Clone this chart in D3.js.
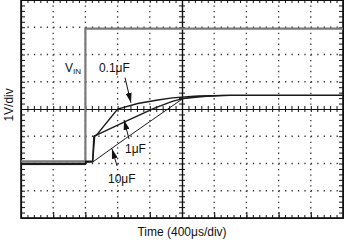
<!DOCTYPE html>
<html>
<head>
<meta charset="utf-8">
<script src="https://cdn.jsdelivr.net/npm/d3@7"></script>
<style>
  body { margin: 0; background: #fff; }
  svg { display: block; font-family: "Liberation Sans", Arial, sans-serif; }
</style>
</head>
<body>
<svg id="chart" width="344" height="241"></svg>
<script>
// time in microseconds, level in volts (0 V = bottom of the screen)
const vinT = [0, 800, 800, 4000];
const vinV = [2.08, 2.08, 6.95, 6.95];

const c01T = [0, 800, 805, 890, 905, 940, 1200, 1450, 1700, 1880, 2150, 2500, 4000];
const c01V = [2.0, 2.0, 2.08, 2.08, 3.0, 3.05, 4.0, 4.2, 4.33, 4.41, 4.47, 4.5, 4.5];

const c1T = [0, 800, 805, 890, 915, 944, 1300, 1665, 1880, 2010, 2300, 2600, 4000];
const c1V = [1.98, 1.98, 2.06, 2.06, 3.0, 3.05, 3.55, 4.04, 4.28, 4.38, 4.47, 4.5, 4.5];

const c10T = [0, 800, 805, 894, 1300, 1630, 2010, 2200, 2500, 4000];
const c10V = [1.96, 1.96, 2.04, 2.06, 2.92, 3.6, 4.38, 4.47, 4.5, 4.5];

const labels = ["0.1\u03bcF", "1\u03bcF", "10\u03bcF"];
const labelT = [1160, 1292, 1081];
const labelV = [5.37, 2.39, 1.29];
const arrowFromT = [1292, 1342, 1193];
const arrowFromV = [5.15, 2.9, 1.91];
const arrowToT = [1366, 1280, 1130];
const arrowToV = [4.23, 3.6, 2.54];

const xDivs = d3.range(0, 4001, 400);
const yDivs = d3.range(0, 8.01, 1);

const svg = d3.select("#chart");
const pLeft = 21, pRight = 343, pTop = 0, pBottom = 218;

const x = d3.scaleLinear().domain([0, 4000]).range([pLeft, pRight]);
const y = d3.scaleLinear().domain([0, 8]).range([pBottom, pTop]);

const minorX = d3.range(0, 4001, 80);
const minorY = d3.range(0, 8.001, 0.2).map(d => +d.toFixed(1));

// dotted graticule
svg.append("g")
    .selectAll("line")
    .data(xDivs.filter(d => d > 0 && d < 4000 && d !== 2000))
    .join("line")
    .attr("x1", d => x(d)).attr("x2", d => x(d))
    .attr("y1", pTop).attr("y2", pBottom)
    .attr("stroke", "#333")
    .attr("stroke-width", 1.3)
    .attr("stroke-dasharray", `1.3,${(pBottom - pTop) / 40 - 1.3}`);

svg.append("g")
    .selectAll("line")
    .data(yDivs.filter(d => d > 0 && d < 8 && d !== 4))
    .join("line")
    .attr("x1", pLeft).attr("x2", pRight)
    .attr("y1", d => y(d)).attr("y2", d => y(d))
    .attr("stroke", "#333")
    .attr("stroke-width", 1.3)
    .attr("stroke-dasharray", `1.3,${(pRight - pLeft) / 50 - 1.3}`);

// center axes with cross ticks
const cy = y(4), cx = x(2000);
svg.append("g").attr("transform", `translate(0,${cy})`)
    .call(d3.axisBottom(x).tickValues(minorX).tickSize(3).tickSizeOuter(0).tickFormat(""));
svg.append("g").attr("transform", `translate(0,${cy})`)
    .call(d3.axisTop(x).tickValues(minorX).tickSize(3).tickSizeOuter(0).tickFormat(""));
svg.append("g").attr("transform", `translate(${cx},0)`)
    .call(d3.axisLeft(y).tickValues(minorY).tickSize(3).tickSizeOuter(0).tickFormat(""));
svg.append("g").attr("transform", `translate(${cx},0)`)
    .call(d3.axisRight(y).tickValues(minorY).tickSize(3).tickSizeOuter(0).tickFormat(""));

// edge ticks pointing inward
svg.append("g").attr("transform", `translate(0,${pBottom})`)
    .call(d3.axisTop(x).tickValues(minorX).tickSize(3).tickSizeOuter(0).tickFormat(""));
svg.append("g").attr("transform", `translate(0,${pTop})`)
    .call(d3.axisBottom(x).tickValues(minorX).tickSize(3).tickSizeOuter(0).tickFormat(""));
svg.append("g").attr("transform", `translate(${pLeft},0)`)
    .call(d3.axisRight(y).tickValues(minorY).tickSize(4).tickSizeOuter(0).tickFormat(""));
svg.append("g").attr("transform", `translate(${pRight},0)`)
    .call(d3.axisLeft(y).tickValues(minorY).tickSize(4).tickSizeOuter(0).tickFormat(""));
svg.append("g").attr("transform", `translate(0,${pBottom})`)
    .call(d3.axisTop(x).tickValues(xDivs).tickSize(6).tickSizeOuter(0).tickFormat(""));

svg.selectAll(".domain").attr("stroke", "#111").attr("stroke-width", 1.2);
svg.selectAll(".tick line").attr("stroke", "#111").attr("stroke-width", 1);

// frame
svg.append("rect")
    .attr("x", pLeft).attr("y", pTop)
    .attr("width", pRight - pLeft).attr("height", pBottom - pTop)
    .attr("fill", "none")
    .attr("stroke", "#111")
    .attr("stroke-width", 1.6);

// traces
const line = d3.line().x(d => x(d[0])).y(d => y(d[1]));
const zip = (t, v) => t.map((d, i) => [d, v[i]]);

svg.append("path")
    .datum(zip(vinT, vinV))
    .attr("d", line)
    .attr("fill", "none")
    .attr("stroke", "#7a7a7a")
    .attr("stroke-width", 2.2);

[zip(c01T, c01V), zip(c1T, c1V), zip(c10T, c10V)].forEach((s, i) => {
    svg.append("path")
        .datum(s)
        .attr("d", line)
        .attr("fill", "none")
        .attr("stroke", "#1a1a1a")
        .attr("stroke-width", i === 2 ? 1 : 1.4);
});

// annotations
svg.append("defs").append("marker")
    .attr("id", "head")
    .attr("markerUnits", "userSpaceOnUse")
    .attr("viewBox", "0 0 10 6")
    .attr("refX", 10).attr("refY", 3)
    .attr("markerWidth", 10).attr("markerHeight", 6)
    .attr("orient", "auto")
    .append("path")
    .attr("d", "M0,0 L10,3 L0,6 Z")
    .attr("fill", "#111");

svg.append("g")
    .selectAll("line")
    .data(labels)
    .join("line")
    .attr("x1", (d, i) => x(arrowFromT[i]))
    .attr("y1", (d, i) => y(arrowFromV[i]))
    .attr("x2", (d, i) => x(arrowToT[i]))
    .attr("y2", (d, i) => y(arrowToV[i]))
    .attr("stroke", "#111")
    .attr("stroke-width", 1)
    .attr("marker-end", "url(#head)");

svg.append("g")
    .selectAll("text")
    .data(labels)
    .join("text")
    .attr("x", (d, i) => x(labelT[i]))
    .attr("y", (d, i) => y(labelV[i]))
    .attr("text-anchor", (d, i) => i === 0 ? "middle" : "start")
    .attr("font-size", 12)
    .attr("fill", "#111")
    .text(d => d);

const vin = svg.append("text")
    .attr("x", x(547))
    .attr("y", y(5.37))
    .attr("font-size", 12)
    .attr("fill", "#111");
vin.append("tspan").text("V");
vin.append("tspan").attr("font-size", 8).attr("dy", 2).text("IN");

// axis titles
svg.append("text")
    .attr("transform", `translate(13,${y(4.15)}) rotate(-90)`)
    .attr("text-anchor", "middle")
    .attr("font-size", 12)
    .attr("fill", "#111")
    .text("1V/div");

svg.append("text")
    .attr("x", x(2000))
    .attr("y", 236)
    .attr("text-anchor", "middle")
    .attr("font-size", 12)
    .attr("fill", "#111")
    .text("Time (400\u03bcs/div)");
</script>
</body>
</html>
